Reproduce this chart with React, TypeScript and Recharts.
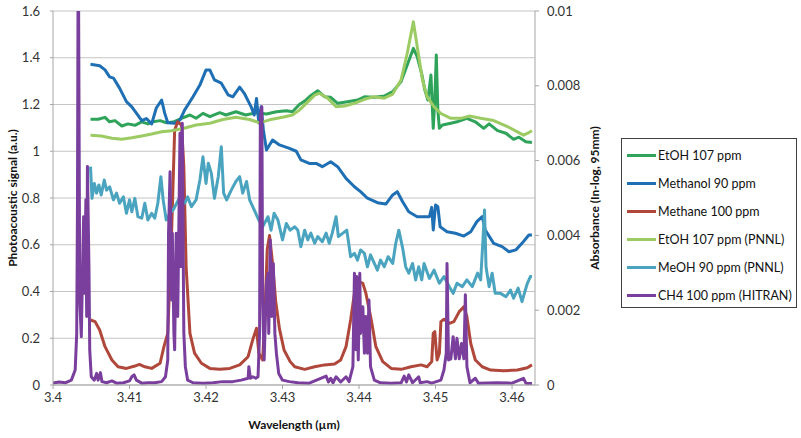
import { LineChart, Line, XAxis, YAxis, CartesianGrid, Legend, Label } from 'recharts'

// wavelength (µm) vs photoacoustic signal (a.u.)
const etoh: [number, number][] = [
  [3.4049,1.137],[3.4059,1.137],[3.4068,1.145],[3.4074,1.126],[3.4081,1.131],[3.409,1.108],[3.4098,1.117],
  [3.4107,1.111],[3.4116,1.126],[3.4124,1.117],[3.4131,1.126],[3.414,1.131],[3.4148,1.122],[3.4157,1.125],
  [3.4168,1.141],[3.4179,1.155],[3.4187,1.141],[3.4196,1.162],[3.4205,1.148],[3.4218,1.165],[3.4226,1.155],
  [3.4239,1.169],[3.4252,1.155],[3.4266,1.165],[3.4279,1.159],[3.4292,1.169],[3.4305,1.173],[3.4313,1.169],
  [3.4322,1.2],[3.4329,1.215],[3.4335,1.233],[3.4346,1.259],[3.4355,1.233],[3.4363,1.231],[3.4372,1.205],
  [3.4385,1.212],[3.4398,1.219],[3.4407,1.233],[3.442,1.231],[3.4433,1.236],[3.4444,1.255],[3.4455,1.298],
  [3.4463,1.369],[3.4471,1.44],[3.4476,1.405],[3.4482,1.33],[3.4486,1.262],[3.449,1.219],[3.4494,1.326],
  [3.4497,1.098],[3.4499,1.219],[3.4501,1.412],[3.4503,1.176],[3.4505,1.098],[3.4509,1.112],[3.452,1.12],
  [3.4528,1.126],[3.4541,1.141],[3.4552,1.126],[3.4563,1.098],[3.457,1.117],[3.4581,1.088],[3.4592,1.077],
  [3.4602,1.051],[3.4609,1.06],[3.4618,1.041],[3.4626,1.037],
]

const methanol: [number, number][] = [
  [3.4049,1.372],[3.4061,1.366],[3.4068,1.348],[3.4074,1.318],[3.4079,1.313],[3.4087,1.27],[3.4096,1.212],
  [3.4103,1.19],[3.4109,1.163],[3.4116,1.131],[3.4122,1.14],[3.4129,1.117],[3.4135,1.185],[3.4142,1.219],
  [3.4146,1.163],[3.415,1.122],[3.4159,1.12],[3.4166,1.134],[3.4172,1.176],[3.4183,1.233],[3.4192,1.283],
  [3.42,1.348],[3.4205,1.348],[3.4211,1.305],[3.422,1.291],[3.4229,1.241],[3.4235,1.233],[3.4244,1.274],
  [3.425,1.248],[3.4259,1.19],[3.4263,1.155],[3.4266,1.226],[3.4269,1.121],[3.4272,1.19],[3.4275,1.091],
  [3.4279,1.005],[3.4287,1.048],[3.4296,1.027],[3.4309,1.012],[3.4318,1.0],[3.4324,0.963],[3.4335,0.948],
  [3.4344,0.948],[3.4352,0.934],[3.4363,0.955],[3.4372,0.934],[3.4383,0.884],[3.4394,0.848],[3.4402,0.827],
  [3.4411,0.799],[3.4424,0.78],[3.4435,0.774],[3.4444,0.813],[3.445,0.827],[3.4457,0.784],[3.4465,0.741],
  [3.4476,0.72],[3.4492,0.72],[3.4495,0.76],[3.4497,0.663],[3.45,0.77],[3.4503,0.763],[3.4506,0.677],
  [3.4515,0.656],[3.4526,0.649],[3.4537,0.637],[3.4546,0.656],[3.4554,0.699],[3.4561,0.72],[3.4565,0.663],
  [3.4576,0.606],[3.4587,0.592],[3.4596,0.57],[3.4605,0.578],[3.4613,0.606],[3.4622,0.642],[3.4626,0.642],
]

const methane: [number, number][] = [
  [3.4049,0.278],[3.4055,0.271],[3.4061,0.235],[3.4068,0.164],[3.4077,0.107],[3.4085,0.078],[3.4096,0.071],
  [3.4107,0.081],[3.4113,0.088],[3.412,0.078],[3.4129,0.071],[3.414,0.093],[3.4145,0.164],[3.415,0.221],
  [3.4155,0.65],[3.4159,1.09],[3.4163,1.126],[3.4168,1.112],[3.4171,0.934],[3.4174,0.506],[3.4179,0.221],
  [3.4185,0.136],[3.4194,0.093],[3.4205,0.071],[3.4218,0.067],[3.4231,0.071],[3.4244,0.086],[3.4255,0.121],
  [3.4261,0.193],[3.4266,0.243],[3.4269,0.136],[3.4274,0.107],[3.4277,0.3],[3.428,0.58],[3.4283,0.64],
  [3.4287,0.52],[3.4291,0.36],[3.4296,0.24],[3.4302,0.15],[3.431,0.1],[3.4316,0.078],[3.4329,0.067],
  [3.4342,0.078],[3.4355,0.086],[3.4368,0.09],[3.4376,0.107],[3.4383,0.164],[3.4389,0.278],[3.4394,0.392],
  [3.44,0.442],[3.4405,0.435],[3.4409,0.392],[3.4416,0.278],[3.4422,0.164],[3.4431,0.1],[3.4442,0.071],
  [3.4455,0.067],[3.4468,0.078],[3.4481,0.086],[3.4489,0.078],[3.4495,0.1],[3.4497,0.221],[3.4499,0.228],
  [3.4502,0.107],[3.4505,0.136],[3.4507,0.271],[3.4511,0.281],[3.4518,0.264],[3.4524,0.271],[3.4531,0.314],
  [3.4537,0.335],[3.4541,0.292],[3.4546,0.178],[3.4552,0.107],[3.4561,0.078],[3.4572,0.064],[3.4589,0.061],
  [3.4607,0.064],[3.462,0.074],[3.4626,0.086],
]

// wavelength (µm) vs absorbance (ln-log, 95mm), right axis
const etohPnnl: [number, number][] = [
  [3.4049,0.00668],[3.4063,0.00666],[3.4077,0.0066],[3.409,0.00657],[3.4103,0.00661],[3.4116,0.00666],
  [3.4129,0.00671],[3.4142,0.00677],[3.4155,0.0068],[3.417,0.00686],[3.4187,0.00695],[3.4205,0.007],
  [3.4222,0.0071],[3.4239,0.00716],[3.4257,0.0071],[3.427,0.00701],[3.4283,0.00709],[3.43,0.00716],
  [3.4313,0.00722],[3.4322,0.00735],[3.4329,0.00749],[3.4342,0.00775],[3.4348,0.0078],[3.4359,0.00767],
  [3.437,0.00744],[3.4381,0.00746],[3.4394,0.00753],[3.4407,0.00764],[3.442,0.00771],[3.4433,0.00767],
  [3.4444,0.00778],[3.4455,0.00816],[3.4463,0.00887],[3.4471,0.00971],[3.4476,0.00905],[3.4483,0.00815],
  [3.4489,0.00771],[3.4498,0.00744],[3.4507,0.00726],[3.452,0.00713],[3.4533,0.00713],[3.4544,0.00719],
  [3.4559,0.00713],[3.4576,0.00707],[3.4594,0.00691],[3.4607,0.00677],[3.4615,0.00668],[3.4622,0.00675],
  [3.4626,0.0068],
]

const meohPnnl: [number, number][] = [
  [3.4049,0.00584],[3.4051,0.00499],[3.4054,0.00539],[3.4057,0.00513],[3.406,0.00535],[3.4063,0.00508],
  [3.4067,0.00548],[3.407,0.00521],[3.4074,0.0053],[3.4079,0.00495],[3.4083,0.00513],[3.4087,0.00486],
  [3.4092,0.00503],[3.4096,0.00459],[3.41,0.00495],[3.4103,0.00463],[3.4107,0.00499],[3.4111,0.0045],
  [3.4116,0.00446],[3.412,0.00486],[3.4124,0.00441],[3.4129,0.00459],[3.4133,0.00446],[3.4137,0.00486],
  [3.4141,0.00557],[3.4144,0.00495],[3.4148,0.00441],[3.4153,0.00459],[3.4157,0.00468],[3.4166,0.00503],
  [3.4172,0.00486],[3.4176,0.00503],[3.4181,0.00477],[3.4187,0.00495],[3.4192,0.00548],[3.4196,0.0061],
  [3.42,0.00539],[3.4203,0.00593],[3.4207,0.00566],[3.4211,0.00499],[3.4216,0.00557],[3.422,0.00637],
  [3.4223,0.00513],[3.4227,0.00495],[3.4233,0.00521],[3.4239,0.00544],[3.4244,0.00557],[3.4248,0.00513],
  [3.4253,0.00544],[3.4257,0.00495],[3.4263,0.00468],[3.4269,0.00441],[3.4274,0.00423],[3.4281,0.0045],
  [3.4285,0.00414],[3.4289,0.00459],[3.4294,0.00441],[3.43,0.00388],[3.4305,0.00432],[3.431,0.00414],
  [3.4316,0.00423],[3.432,0.00414],[3.4324,0.0037],[3.4329,0.00414],[3.4333,0.00388],[3.4337,0.00406],
  [3.4342,0.00379],[3.4346,0.00397],[3.4352,0.00383],[3.4357,0.00406],[3.4361,0.00379],[3.4365,0.00406],
  [3.437,0.0045],[3.4373,0.00397],[3.4379,0.00406],[3.4384,0.00414],[3.4389,0.00343],[3.4394,0.00352],
  [3.4398,0.00334],[3.4402,0.00361],[3.4407,0.00352],[3.4411,0.00316],[3.4415,0.00348],[3.442,0.00325],
  [3.4424,0.00307],[3.4428,0.00334],[3.4433,0.00316],[3.4438,0.00343],[3.4444,0.00325],[3.4448,0.00379],
  [3.4452,0.00414],[3.4457,0.00366],[3.4461,0.00316],[3.4465,0.00299],[3.447,0.00325],[3.4474,0.00281],
  [3.4478,0.00316],[3.4482,0.00281],[3.4485,0.00325],[3.4492,0.00285],[3.4498,0.00307],[3.4505,0.00272],
  [3.4511,0.0029],[3.4518,0.00263],[3.4523,0.00245],[3.4528,0.00272],[3.4535,0.00263],[3.4541,0.00281],
  [3.4548,0.00263],[3.4555,0.00299],[3.4559,0.00281],[3.4562,0.00388],[3.4564,0.00468],[3.4566,0.00316],
  [3.457,0.00263],[3.4574,0.00299],[3.4578,0.00245],[3.4585,0.00245],[3.4592,0.00236],[3.4598,0.00254],
  [3.4602,0.00232],[3.4608,0.00259],[3.4613,0.00223],[3.462,0.00272],[3.4624,0.0029],[3.4626,0.0029],
]

const ch4Hitran: [number, number][] = [
  [3.4,0.00005],[3.4008,0.00008],[3.4016,0.00006],[3.4024,0.00013],[3.4029,0.0004],[3.4031,0.00138],
  [3.4032,0.00495],[3.4033,0.0125],[3.4035,0.00227],[3.4037,0.00129],[3.404,0.0045],[3.4041,0.00245],
  [3.4043,0.00495],[3.4044,0.00183],[3.4045,0.00584],[3.4047,0.00316],[3.4048,0.00094],[3.405,0.00022],
  [3.4054,0.00013],[3.4057,0.00031],[3.4059,0.00013],[3.4062,0.00033],[3.4064,0.00009],[3.407,0.00006],
  [3.4077,0.00011],[3.4083,0.00005],[3.4092,0.00006],[3.41,0.00011],[3.4103,0.00022],[3.4106,0.00027],
  [3.4109,0.00013],[3.4116,0.00005],[3.4124,0.00006],[3.4133,0.00006],[3.4142,0.00009],[3.4147,0.00022],
  [3.415,0.00067],[3.4151,0.00406],[3.4153,0.0057],[3.4155,0.00227],[3.4156,0.00406],[3.4158,0.00139],
  [3.4159,0.00094],[3.4161,0.00406],[3.4163,0.00183],[3.4166,0.00673],[3.4167,0.00316],[3.4169,0.007],
  [3.417,0.00406],[3.4171,0.00139],[3.4173,0.00049],[3.4176,0.00013],[3.4183,0.00006],[3.4196,0.00005],
  [3.4209,0.00006],[3.4222,0.00009],[3.4235,0.00009],[3.4246,0.00013],[3.4255,0.00018],[3.4256,0.00049],
  [3.4258,0.00018],[3.4261,0.00022],[3.4265,0.00018],[3.4268,0.00022],[3.427,0.00138],[3.4271,0.00717],
  [3.4273,0.00744],[3.4274,0.00227],[3.4276,0.00067],[3.4279,0.00272],[3.4281,0.00299],[3.4282,0.00138],
  [3.4284,0.00388],[3.4286,0.00183],[3.4288,0.00325],[3.429,0.00138],[3.4292,0.00085],[3.4295,0.00031],
  [3.43,0.00013],[3.4309,0.00009],[3.432,0.00006],[3.4335,0.00005],[3.4357,0.00024],[3.436,0.00008],
  [3.4363,0.00018],[3.4366,0.00006],[3.437,0.00022],[3.4376,0.00008],[3.4383,0.00022],[3.4387,0.00009],
  [3.4392,0.00049],[3.4394,0.00299],[3.4396,0.00094],[3.4397,0.0029],[3.4399,0.00067],[3.4401,0.00299],
  [3.4402,0.00138],[3.4405,0.00209],[3.4407,0.00085],[3.4409,0.00183],[3.4411,0.00085],[3.4413,0.00227],
  [3.4415,0.00049],[3.442,0.00013],[3.4428,0.00006],[3.4442,0.00005],[3.4455,0.00006],[3.4459,0.00024],
  [3.4462,0.00008],[3.4465,0.00027],[3.447,0.00006],[3.4478,0.00022],[3.448,0.00006],[3.4489,0.00009],
  [3.4495,0.00005],[3.4507,0.00013],[3.4511,0.0004],[3.4514,0.00085],[3.4515,0.00325],[3.4517,0.00067],
  [3.452,0.0007],[3.4523,0.00129],[3.4526,0.0007],[3.4528,0.00125],[3.4531,0.0007],[3.4534,0.00111],
  [3.4537,0.0007],[3.4539,0.00241],[3.4541,0.00049],[3.4545,0.00006],[3.4552,0.00018],[3.4556,0.00005],
  [3.458,0.00006],[3.46,0.00005],[3.4615,0.00018],[3.4618,0.00005],[3.4626,0.00004],
]

const xTicks = [3.4, 3.41, 3.42, 3.43, 3.44, 3.45, 3.46]
const leftTicks = [0, 0.2, 0.4, 0.6, 0.8, 1, 1.2, 1.4, 1.6]
const rightTicks = [0, 0.002, 0.004, 0.006, 0.008, 0.01]

const series = [
  { name: 'EtOH 107 ppm', data: etoh, axis: 'left', color: '#30a35a' },
  { name: 'Methanol 90 ppm', data: methanol, axis: 'left', color: '#1f6fb4' },
  { name: 'Methane 100 ppm', data: methane, axis: 'left', color: '#b0473b' },
  { name: 'EtOH 107 ppm (PNNL)', data: etohPnnl, axis: 'right', color: '#9ccb63' },
  { name: 'MeOH 90 ppm (PNNL)', data: meohPnnl, axis: 'right', color: '#4aa4bf' },
  { name: 'CH4 100 ppm (HITRAN)', data: ch4Hitran, axis: 'right', color: '#7a3f9d' },
]

const FONT = 'Lato, "Open Sans", sans-serif'
const tickStyle = { fill: '#333', fontSize: 13, fontFamily: FONT }

const LegendBox = () => (
  <div style={{ border: '1px solid #404040', background: '#fff', width: 174, height: 166, paddingTop: 2, boxSizing: 'content-box', fontFamily: FONT }}>
    {series.map(s => (
      <div key={s.name} style={{ height: 28, display: 'flex', alignItems: 'center', whiteSpace: 'nowrap' }}>
        <span style={{ display: 'inline-block', flex: 'none', width: 29, height: 3, marginLeft: 5, marginRight: 2, background: s.color }} />
        <span style={{ fontSize: 12.5, color: '#111' }}>{s.name}</span>
      </div>
    ))}
  </div>
)

const axisTitle = (text: string, dx: number) => (props: any) => {
  const vb = props.viewBox
  const cx = vb.x + dx
  const cy = vb.y + vb.height / 2
  return (
    <text x={cx} y={cy} transform={`rotate(-90 ${cx} ${cy})`} textAnchor="middle" dominantBaseline="central"
      style={{ fontFamily: FONT, fontSize: 12, fontWeight: 700, fill: '#111' }}>{text}</text>
  )
}

export default function App() {
  return (
    <div style={{ position: 'absolute', left: 0, top: 0, background: '#fff' }}>
      <LineChart width={801} height={438} margin={{ top: 11, right: 206, bottom: 0, left: 0 }}>
        <CartesianGrid yAxisId="left" vertical={false} stroke="#c4c4c4" />
        <XAxis dataKey="x" type="number" domain={[3.4, 3.463]} allowDataOverflow ticks={xTicks}
          tickFormatter={(v: number) => String(Number(v.toFixed(2)))} height={53}
          tick={tickStyle} stroke="#a6a6a6" tickSize={4} tickMargin={4}>
          <Label value="Wavelength (µm)" position="insideBottom" offset={9}
            style={{ fontFamily: FONT, fontSize: 12, fontWeight: 700, fill: '#111' }} />
        </XAxis>
        <YAxis yAxisId="left" domain={[0, 1.6]} ticks={leftTicks} allowDataOverflow width={53}
          tick={tickStyle} stroke="#a6a6a6" tickSize={3} tickMargin={10} interval={0}>
          <Label content={axisTitle('Photoacoustic signal (a.u.)', 12)} />
        </YAxis>
        <YAxis yAxisId="right" orientation="right" domain={[0, 0.01]} ticks={rightTicks} allowDataOverflow width={60}
          tick={tickStyle} stroke="#a6a6a6" tickSize={4} tickMargin={8} interval={0}>
          <Label content={axisTitle('Absorbance (In-log, 95mm)', 59)} />
        </YAxis>
        {series.map(s => (
          <Line key={s.name} yAxisId={s.axis} name={s.name} data={s.data.map(([x, y]) => ({ x, y }))}
            dataKey="y" type="linear" stroke={s.color} strokeWidth={3} dot={false} activeDot={false}
            strokeLinejoin="round" isAnimationActive={false} />
        ))}
        <Legend layout="vertical" align="center" verticalAlign="middle" content={<LegendBox />}
          wrapperStyle={{ left: 621, top: 138, width: 176 }} />
      </LineChart>
    </div>
  )
}
